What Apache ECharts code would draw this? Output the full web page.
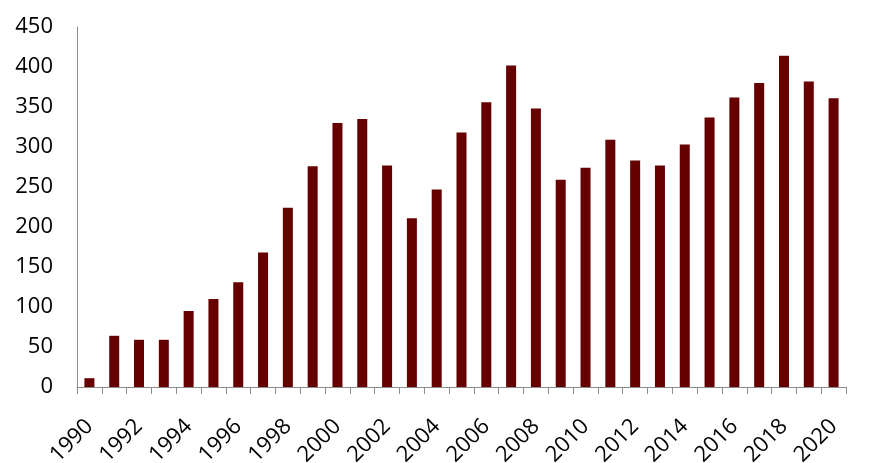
<!DOCTYPE html>
<html>
<head>
<meta charset="utf-8">
<script src="https://cdn.jsdelivr.net/npm/echarts@6/dist/echarts.min.js"></script>
<style>
html,body{margin:0;padding:0;background:#fff;}
#c{width:869px;height:463px;}
</style>
</head>
<body>
<div id="c"></div>
<script>
var years = ['1990','1991','1992','1993','1994','1995','1996','1997','1998','1999','2000','2001','2002','2003','2004','2005','2006','2007','2008','2009','2010','2011','2012','2013','2014','2015','2016','2017','2018','2019','2020'];
var values = [11,64,59,59,95,110,131,168,224,276,330,335,277,211,247,318,356,402,348,259,274,309,283,277,303,337,362,380,414,382,361];
var yMin = 0, yMax = 450, yStep = 50;

var chart = echarts.init(document.getElementById('c'));
chart.setOption({
  animation: false,
  grid: {left: 77, right: 23, top: 27, bottom: 76, outerBoundsMode: 'none'},
  xAxis: {
    type: 'category',
    data: years,
    boundaryGap: true,
    axisLine: {show: true, lineStyle: {color: '#8c8c8c', width: 1}},
    axisTick: {show: true, length: 7, interval: 0, lineStyle: {color: '#8c8c8c'}},
    axisLabel: {
      interval: 1, rotate: 45, margin: 36,
      color: '#000', fontSize: 22, fontFamily: 'Open Sans'
    }
  },
  yAxis: {
    type: 'value',
    min: yMin, max: yMax, interval: yStep,
    axisLine: {show: true, lineStyle: {color: '#8c8c8c', width: 1}},
    axisTick: {show: false},
    splitLine: {show: false},
    axisLabel: {color: '#000', fontSize: 22, fontFamily: 'Open Sans', margin: 24}
  },
  series: [{
    type: 'bar',
    data: values,
    barWidth: 10,
    itemStyle: {color: '#660000'}
  }]
});
</script>
</body>
</html>
